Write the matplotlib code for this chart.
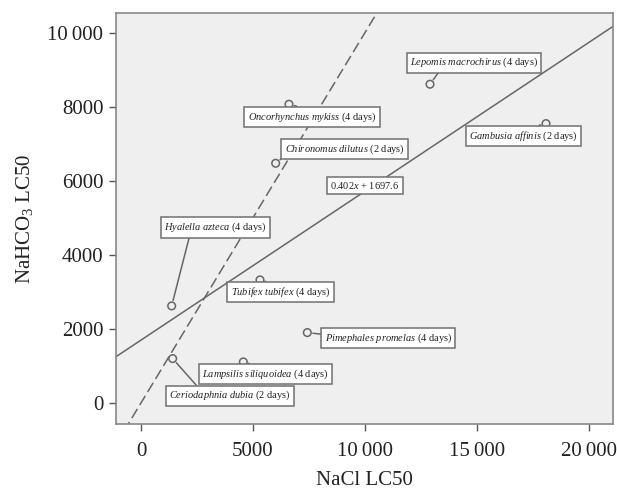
import numpy as np
import matplotlib
matplotlib.use("Agg")
import matplotlib.pyplot as plt
from matplotlib.ticker import FuncFormatter

plt.rcParams['font.family'] = ['Liberation Serif', 'DejaVu Serif']
plt.rcParams['mathtext.fontset'] = 'custom'
plt.rcParams['mathtext.rm'] = 'Liberation Serif'
plt.rcParams['mathtext.it'] = 'Liberation Serif:italic'

# LC50 values
species = ["Lepomis macrochirus", "Oncorhynchus mykiss", "Gambusia affinis",
           "Chironomus dilutus", "Hyalella azteca", "Tubifex tubifex",
           "Pimephales promelas", "Ceriodaphnia dubia", "Lampsilis siliquoidea"]
days = [4, 4, 2, 2, 4, 4, 4, 2, 4]
nacl = [12913, 6613, 18097, 6018, 1371, 5317, 7432, 1415, 4573]
nahco3 = [8613, 8072, 7549, 6477, 2622, 3324, 1901, 1198, 1108]

# label box centres (data units) and where the leader line leaves the box
lab_x = [14880, 7640, 17083, 9101, 3337, 6233, 11045, 3977, 5563]
lab_y = [9197, 7730, 7216, 6859, 4743, 2995, 1749, 194, 784]
relpos = [(0.24, 0), (0.5, 1), (0.5, 1), (0, 0), (0.25, 0), (0.5, 1), (0, 0.77), (0.25, 1), (0.5, 1)]

# fit line and 1:1 line
slope, icpt = 0.402, 1697.6
eq_x, eq_y = 10009, 5873

xlim = (-1117, 21090)
ylim = (-568, 10540)

fig = plt.figure(figsize=(6.17, 4.97), dpi=100)
ax = fig.add_axes([0.188, 0.147, 0.8055, 0.827])
ax.set_facecolor('#efefef')

xx = np.array(xlim)
ax.plot(xx, slope * xx + icpt, color='#666666', lw=1.1, zorder=2)
ax.plot(xx, xx, color='#666666', lw=1.1, ls=(0, (7, 3)), zorder=2)

ax.scatter(nacl, nahco3, s=30, facecolor='none', edgecolor='#666666', lw=1.1, zorder=4)

box = dict(boxstyle='square,pad=0.32', fc='white', ec='#707070', lw=1.1)
for i in range(len(species)):
    name = species[i].replace(' ', r'\ ')
    txt = r'$\it{' + name + '}$' + ' (%d days)' % days[i]
    ax.annotate(txt, xy=(nacl[i], nahco3[i]), xytext=(lab_x[i], lab_y[i]),
                ha='center', va='center', fontsize=7.5, color='#222222',
                bbox=box, zorder=5,
                arrowprops=dict(arrowstyle='-', color='#666666', lw=1.1,
                                relpos=relpos[i], shrinkA=0, shrinkB=4))

ax.text(eq_x, eq_y, '0.402$x$ + 1697.6', ha='center', va='center',
        fontsize=7.5, color='#222222', bbox=box, zorder=5)

ax.set_xlim(xlim)
ax.set_ylim(ylim)
ax.set_xticks([0, 5000, 10000, 15000, 20000])
ax.set_yticks([0, 2000, 4000, 6000, 8000, 10000])


def fmt(v, pos):
    v = int(round(v))
    if abs(v) >= 10000:
        return '{:,}'.format(v).replace(',', '\u2009')
    return str(v)


ax.xaxis.set_major_formatter(FuncFormatter(fmt))
ax.yaxis.set_major_formatter(FuncFormatter(fmt))
ax.tick_params(labelsize=15, colors='#555555', labelcolor='#222222', length=5, width=1)
ax.tick_params(axis='x', pad=8)
ax.tick_params(axis='y', pad=4)
for s in ax.spines.values():
    s.set_color('#888888')
    s.set_linewidth(1.2)

ax.set_xlabel('NaCl LC50', fontsize=15, color='#222222', labelpad=7)
ax.set_ylabel('NaHCO$_3$ LC50', fontsize=15, color='#222222', labelpad=9)

fig.savefig('out.png', dpi=100)
